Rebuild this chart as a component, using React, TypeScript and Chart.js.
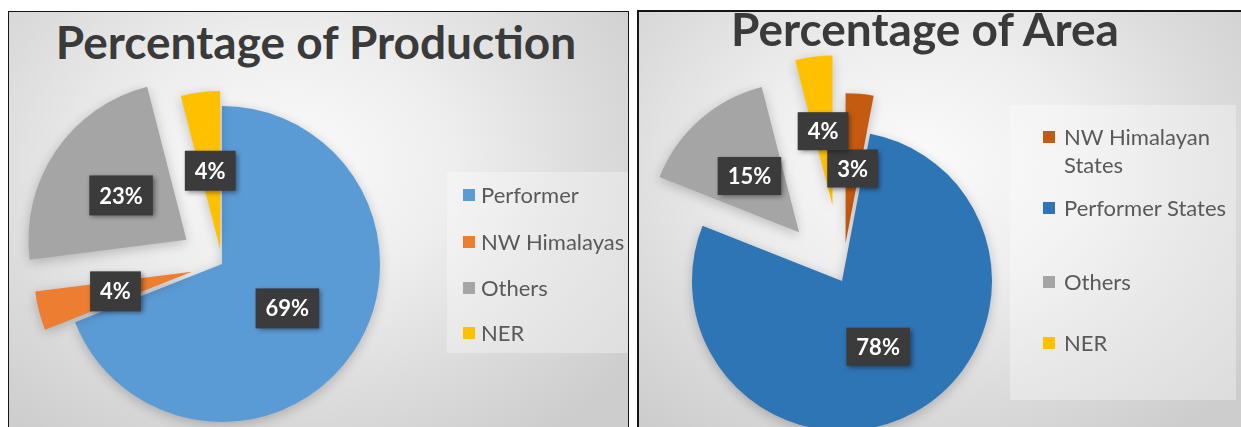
import React, { useEffect, useRef } from "react";
import { Chart, registerables } from "chart.js";

Chart.register(...registerables);

// ---------------- data ----------------
const productionTitle = "Percentage of Production";
const productionLabels = ["Performer", "NW Himalayas", "Others", "NER"];
const productionValues = [69, 4, 23, 4];
const productionColors = ["#5B9BD5", "#ED7D31", "#A5A5A5", "#FFC000"];

const areaTitle = "Percentage of Area";
const areaLabels = ["NW Himalayan States", "Performer States", "Others", "NER"];
const areaValues = [3, 78, 15, 4];
const areaColors = ["#C55A11", "#2E75B6", "#A5A5A5", "#FFC000"];

// ---------------- layout (page pixels) ----------------
type Layout = {
  frame: { left: number; top: number; width: number; height: number; border: number };
  canvas: { left: number; top: number; width: number; height: number };
  center: { x: number; y: number };
  radius: number;
  explode: number[];
  titleCenterX: number;
  titleTop: number;
  legendBox: { left: number; top: number; width: number; height: number };
  legendMarkerX: number;
  legendTextX: number;
  legendY: number[];
  legendTextWidth: number;
  labelBoxH: number;
};

const productionLayout: Layout = {
  frame: { left: 8, top: 11, width: 621, height: 480, border: 1 },
  canvas: { left: 9, top: 12, width: 619, height: 470 },
  center: { x: 222, y: 264 },
  radius: 158,
  explode: [0, 31, 43, 15],
  titleCenterX: 316,
  titleTop: 19,
  legendBox: { left: 447, top: 172, width: 181, height: 181 },
  legendMarkerX: 463,
  legendTextX: 481,
  legendY: [195, 242, 288, 333],
  legendTextWidth: 150,
  labelBoxH: 40,
};

const areaLayout: Layout = {
  frame: { left: 637, top: 10, width: 620, height: 480, border: 2 },
  canvas: { left: 639, top: 12, width: 602, height: 470 },
  center: { x: 842, y: 281 },
  radius: 150,
  explode: [38, 0, 65, 76],
  titleCenterX: 925,
  titleTop: 6,
  legendBox: { left: 1010, top: 105, width: 226, height: 295 },
  legendMarkerX: 1043,
  legendTextX: 1064,
  legendY: [137, 208, 282, 343],
  legendTextWidth: 172,
  labelBoxH: 38,
};

const FONT = "Lato, 'Open Sans', sans-serif";

// keep exploded slices at the nominal radius and angular width
const explodeFix = {
  id: "explodeFix",
  afterDatasetUpdate(chart: any, args: any) {
    const meta = args.meta;
    const R = meta.controller.outerRadius;
    meta.data.forEach((el: any) => {
      const off = ((el.options && el.options.offset) || 0) / 4;
      const c = el.circumference;
      const fix = 1 - Math.sin(Math.min(Math.PI, c || 0));
      const ro = off * fix;
      el.outerRadius = R - ro;
      const ao = ro / (2 * Math.PI * R);
      el.startAngle -= ao;
      el.endAngle += ao;
    });
  },
};

const sliceShadow = {
  id: "sliceShadow",
  beforeDatasetDraw(chart: any) {
    const ctx = chart.ctx;
    ctx.save();
    ctx.shadowColor = "rgba(0,0,0,0.22)";
    ctx.shadowBlur = 12;
    ctx.shadowOffsetX = 0;
    ctx.shadowOffsetY = 3;
  },
  afterDatasetDraw(chart: any) {
    chart.ctx.restore();
  },
};

const boxLabels = {
  id: "boxLabels",
  afterDatasetsDraw(chart: any, _args: any, opts: any) {
    const ctx = chart.ctx;
    const meta = chart.getDatasetMeta(0);
    const vals = chart.data.datasets[0].data as number[];
    const total = vals.reduce((a, b) => a + b, 0);
    const R = meta.controller.outerRadius;
    ctx.save();
    ctx.font = `bold ${opts.fontSize}px ${FONT}`;
    ctx.textAlign = "center";
    ctx.textBaseline = "middle";
    meta.data.forEach((el: any, i: number) => {
      const off = ((el.options && el.options.offset) || 0) / 4;
      const h = (el.startAngle + el.endAngle) / 2;
      const dist = off + R / 2;
      const px = el.x + Math.cos(h) * dist;
      const py = el.y + Math.sin(h) * dist;
      const text = Math.round((vals[i] / total) * 100) + "%";
      const w = ctx.measureText(text).width + opts.padX * 2;
      const bh = opts.boxH;
      ctx.shadowColor = "rgba(0,0,0,0.45)";
      ctx.shadowBlur = 5;
      ctx.shadowOffsetX = 2;
      ctx.shadowOffsetY = 2;
      ctx.fillStyle = "#3b3b3b";
      ctx.fillRect(px - w / 2, py - bh / 2, w, bh);
      ctx.shadowColor = "transparent";
      ctx.shadowBlur = 0;
      ctx.fillStyle = "#ffffff";
      ctx.fillText(text, px, py + 1);
    });
    ctx.restore();
  },
};

function PiePanel(props: {
  title: string;
  labels: string[];
  values: number[];
  colors: string[];
  layout: Layout;
}) {
  const { title, labels, values, colors, layout } = props;
  const ref = useRef<HTMLCanvasElement | null>(null);

  useEffect(() => {
    if (!ref.current) return;
    const cx = layout.center.x - layout.canvas.left;
    const cy = layout.center.y - layout.canvas.top;
    const a = 180;
    const chart = new Chart(ref.current, {
      type: "pie",
      data: {
        labels,
        datasets: [
          {
            data: values,
            backgroundColor: colors,
            borderWidth: 0,
            offset: layout.explode.map((d) => d * 4),
          } as any,
        ],
      },
      options: {
        responsive: false,
        animation: false,
        events: [],
        radius: layout.radius,
        layout: {
          padding: {
            left: cx - a,
            right: layout.canvas.width - cx - a,
            top: cy - a,
            bottom: layout.canvas.height - cy - a,
          },
        },
        plugins: {
          legend: { display: false },
          tooltip: { enabled: false },
          title: { display: false },
          boxLabels: { fontSize: 22, padX: 10, boxH: layout.labelBoxH },
        } as any,
      } as any,
      plugins: [explodeFix, sliceShadow, boxLabels],
    });
    return () => chart.destroy();
  }, []);

  const f = layout.frame;
  return (
    <>
      <div
        style={{
          position: "absolute",
          left: f.left,
          top: f.top,
          width: f.width,
          height: f.height,
          boxSizing: "border-box",
          border: `${f.border}px solid #151515`,
          background:
            "radial-gradient(ellipse 70% 70% at 45% 32%, #fbfbfb 0%, #eeeeee 38%, #dcdcdc 70%, #cdcdcd 100%)",
        }}
      />
      <div
        style={{
          position: "absolute",
          left: layout.legendBox.left,
          top: layout.legendBox.top,
          width: layout.legendBox.width,
          height: layout.legendBox.height,
          background: "rgba(255,255,255,0.32)",
        }}
      />
      <div
        style={{
          position: "absolute",
          left: layout.titleCenterX - 400,
          top: layout.titleTop,
          width: 800,
          textAlign: "center",
          fontFamily: FONT,
          fontWeight: 700,
          fontSize: 46,
          lineHeight: "46px",
          color: "#3a3a3a",
          whiteSpace: "nowrap",
        }}
      >
        {title}
      </div>
      <canvas
        ref={ref}
        width={layout.canvas.width}
        height={layout.canvas.height}
        style={{
          position: "absolute",
          left: layout.canvas.left,
          top: layout.canvas.top,
          width: layout.canvas.width,
          height: layout.canvas.height,
        }}
      />
      {labels.map((lab, i) => (
        <React.Fragment key={lab}>
          <div
            style={{
              position: "absolute",
              left: layout.legendMarkerX,
              top: layout.legendY[i] - 6,
              width: 12,
              height: 12,
              background: colors[i],
            }}
          />
          <div
            style={{
              position: "absolute",
              left: layout.legendTextX,
              top: layout.legendY[i] - 14,
              width: layout.legendTextWidth,
              fontFamily: FONT,
              fontSize: 22,
              lineHeight: "28px",
              color: "#595959",
            }}
          >
            {lab}
          </div>
        </React.Fragment>
      ))}
    </>
  );
}

export default function App() {
  return (
    <div
      style={{
        position: "absolute",
        left: 0,
        top: 0,
        width: 1241,
        height: 427,
        overflow: "hidden",
        background: "#ffffff",
      }}
    >
      <PiePanel
        title={productionTitle}
        labels={productionLabels}
        values={productionValues}
        colors={productionColors}
        layout={productionLayout}
      />
      <PiePanel
        title={areaTitle}
        labels={areaLabels}
        values={areaValues}
        colors={areaColors}
        layout={areaLayout}
      />
    </div>
  );
}
